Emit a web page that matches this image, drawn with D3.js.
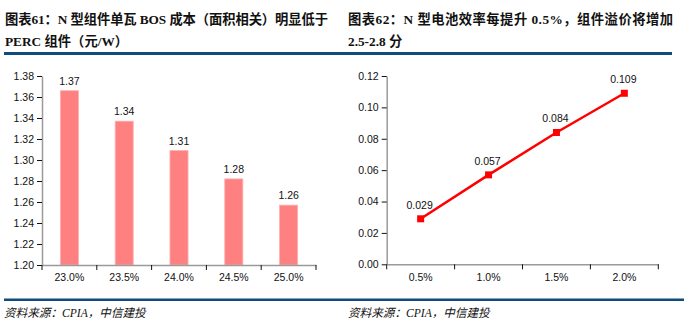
<!DOCTYPE html>
<html>
<head>
<meta charset="utf-8">
<script src="https://cdn.jsdelivr.net/npm/d3@7"></script>
<style>
  html, body { margin: 0; padding: 0; background: #fff; }
  svg { display: block; }
  .title { font-family: "Liberation Serif", "Noto Sans CJK SC", serif; font-weight: bold; font-size: 13.3px; fill: #111; }
  .src { font-family: "Liberation Serif", "Noto Sans CJK SC", serif; font-style: italic; font-size: 11.6px; fill: #111; }
  .tick text, .lbl { font-family: "Liberation Sans", Arial, sans-serif; font-size: 10.5px; fill: #111; }
</style>
</head>
<body>
<svg id="c" width="691" height="328"></svg>
<script>
// Left panel: per-watt BOS cost by module efficiency (yuan/W)
const effCategories = ["23.0%", "23.5%", "24.0%", "24.5%", "25.0%"];
const bosCost = [1.366, 1.337, 1.309, 1.282, 1.257];
const costTicks = [1.20, 1.22, 1.24, 1.26, 1.28, 1.30, 1.32, 1.34, 1.36, 1.38];

// Right panel: module premium per efficiency gain
const gainCategories = ["0.5%", "1.0%", "1.5%", "2.0%"];
const premium = [0.029, 0.057, 0.084, 0.109];
const premiumTicks = [0, 0.02, 0.04, 0.06, 0.08, 0.10, 0.12];

const titleLeft = ["图表61：N 型组件单瓦 BOS 成本（面积相关）明显低于", "PERC 组件（元/W）"];
const titleRight = ["图表62：N 型电池效率每提升 0.5%，组件溢价将增加", "2.5-2.8 分"];
const sourceText = "资料来源：CPIA，中信建投";

const svg = d3.select("#c");
const ruleColor = "#0d4c7d";

// Titles: the first line is justified to the given width
function drawTitle(lines, x, firstWidth) {
  const t = svg.append("text").attr("class", "title");
  lines.forEach((s, i) => {
    const sp = t.append("tspan").attr("x", x).attr("y", 24 + i * 22).text(s);
    if (i === 0) sp.attr("textLength", firstWidth).attr("lengthAdjust", "spacing");
  });
}
drawTitle(titleLeft, 5, 323);
drawTitle(titleRight, 348, 325);

// Rules under the titles and above the source
svg.append("rect").attr("x", 4).attr("y", 52).attr("width", 341).attr("height", 3).attr("fill", ruleColor);
svg.append("rect").attr("x", 345).attr("y", 52).attr("width", 327).attr("height", 3).attr("fill", ruleColor);
svg.append("rect").attr("x", 4).attr("y", 298.5).attr("width", 680).attr("height", 2.5).attr("fill", ruleColor);

svg.append("text").attr("class", "src").attr("x", 4).attr("y", 316.5).text(sourceText);
svg.append("text").attr("class", "src").attr("x", 348).attr("y", 316.5).text(sourceText);

function styleAxis(g) {
  g.select(".domain").attr("stroke", "#9a9a9a").attr("stroke-width", 1.5);
  g.selectAll(".tick line").attr("stroke", "#111").attr("stroke-width", 1);
}

// ---- Bar chart ----
{
  const x = d3.scaleBand().domain(effCategories).range([42, 316]).paddingInner(0.67).paddingOuter(0.335);
  const y = d3.scaleLinear().domain([1.20, 1.38]).range([265, 76]);
  const xa = d3.scaleBand().domain(effCategories).range([42, 316]);

  const gy = svg.append("g").attr("transform", "translate(42,0)")
    .call(d3.axisLeft(y).tickValues(costTicks).tickFormat(d3.format(".2f")).tickSize(5).tickSizeOuter(0).tickPadding(3));
  styleAxis(gy);

  svg.append("g").selectAll("rect").data(bosCost).join("rect")
    .attr("x", (d, i) => x(effCategories[i]))
    .attr("y", d => y(d))
    .attr("width", x.bandwidth())
    .attr("height", d => y(1.20) - y(d))
    .attr("fill", "#ff8080")
    .attr("stroke", "#ffb0b0").attr("stroke-width", 0.8);

  const gx = svg.append("g").attr("transform", "translate(0,265)")
    .call(d3.axisBottom(xa).tickSize(0).tickPadding(9));
  styleAxis(gx);
  // boundary ticks between categories
  const bounds = effCategories.map(c => xa(c)).concat([316]);
  gx.selectAll("line.b").data(bounds).join("line").attr("class", "b")
    .attr("x1", d => d).attr("x2", d => d).attr("y1", 0).attr("y2", 5).attr("stroke", "#111");

  svg.append("g").selectAll("text").data(bosCost).join("text").attr("class", "lbl")
    .attr("x", (d, i) => x(effCategories[i]) + x.bandwidth() / 2)
    .attr("y", d => y(d) - 6)
    .attr("text-anchor", "middle")
    .text(d => d.toFixed(2));
}

// ---- Line chart ----
{
  const xa = d3.scaleBand().domain(gainCategories).range([386.7, 658.3]);
  const x = c => xa(c) + xa.bandwidth() / 2;
  const y = d3.scaleLinear().domain([0, 0.12]).range([264.3, 76]);

  const gy = svg.append("g").attr("transform", "translate(386.7,0)")
    .call(d3.axisLeft(y).tickValues(premiumTicks).tickFormat(d3.format(".2f")).tickSize(5).tickSizeOuter(0).tickPadding(3));
  styleAxis(gy);

  const gx = svg.append("g").attr("transform", "translate(0,264.3)")
    .call(d3.axisBottom(xa).tickSize(0).tickPadding(9));
  styleAxis(gx);
  const bounds = gainCategories.map(c => xa(c)).concat([658.3]);
  gx.selectAll("line.b").data(bounds).join("line").attr("class", "b")
    .attr("x1", d => d).attr("x2", d => d).attr("y1", 0).attr("y2", 5).attr("stroke", "#111");

  const line = d3.line().x((d, i) => x(gainCategories[i])).y(d => y(d));
  svg.append("path").datum(premium).attr("d", line)
    .attr("fill", "none").attr("stroke", "#ff0000").attr("stroke-width", 2.5);

  svg.append("g").selectAll("rect").data(premium).join("rect")
    .attr("x", (d, i) => x(gainCategories[i]) - 3.5)
    .attr("y", d => y(d) - 3.5)
    .attr("width", 7).attr("height", 7)
    .attr("fill", "#ff0000");

  svg.append("g").selectAll("text").data(premium).join("text").attr("class", "lbl")
    .attr("x", (d, i) => x(gainCategories[i]) - 1)
    .attr("y", d => y(d) - 10)
    .attr("text-anchor", "middle")
    .text(d => d.toFixed(3));
}
</script>
</body>
</html>
